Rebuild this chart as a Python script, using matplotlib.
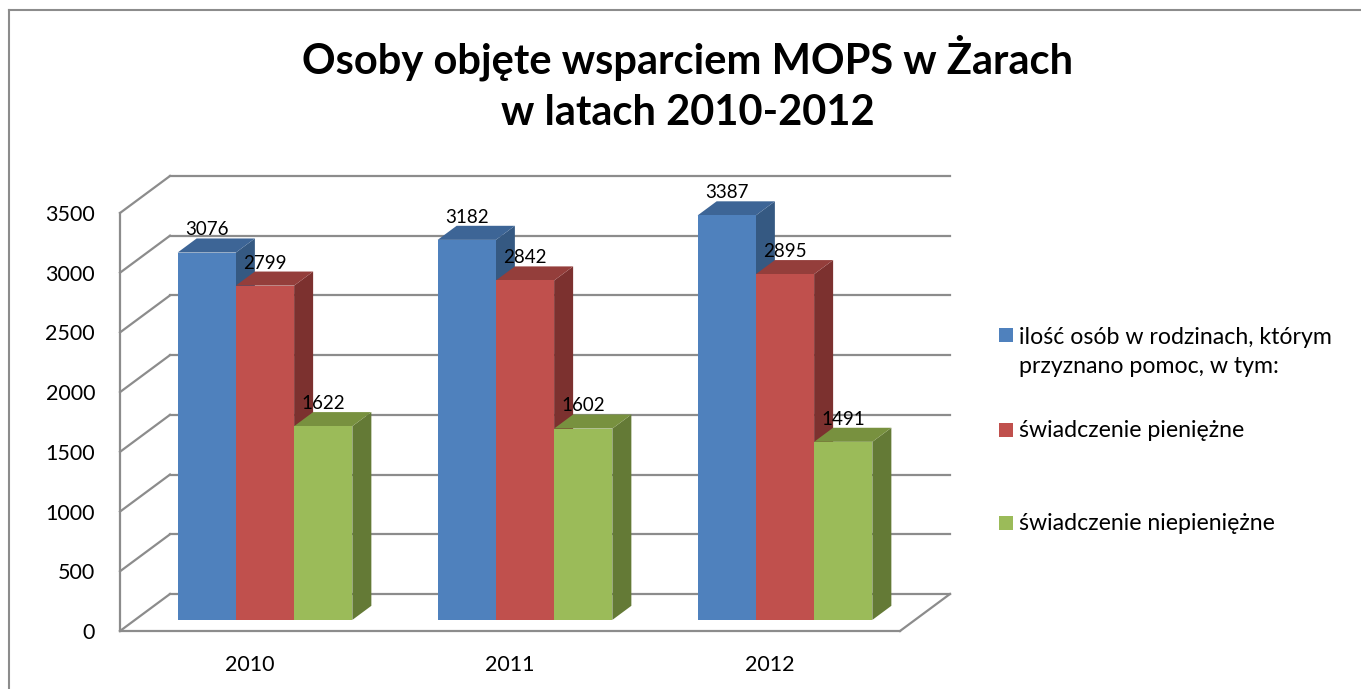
import matplotlib
matplotlib.use("Agg")
import matplotlib.pyplot as plt
from matplotlib.patches import Polygon, Rectangle
from matplotlib.lines import Line2D

# ---------------- data ----------------
years = ["2010", "2011", "2012"]
series_names = [
    "ilość osób w rodzinach, którym\nprzyznano pomoc, w tym:",
    "świadczenie pieniężne",
    "świadczenie niepieniężne",
]
osoby_ogolem = [3076, 3182, 3387]
swiadczenie_pieniezne = [2799, 2842, 2895]
swiadczenie_niepieniezne = [1622, 1602, 1491]
y_ticks = [0, 500, 1000, 1500, 2000, 2500, 3000, 3500]
title = "Osoby objęte wsparciem MOPS w Żarach\nw latach 2010-2012"

series = [osoby_ogolem, swiadczenie_pieniezne, swiadczenie_niepieniezne]

# ---------------- style ----------------
FONT = ["Lato", "DejaVu Sans"]
plt.rcParams["font.family"] = FONT
front_colors = ["#4F81BD", "#C0504D", "#9BBB59"]
top_colors = ["#3D6596", "#943E3B", "#78913F"]
side_colors = ["#355982", "#7C312F", "#647A36"]
grid_color = "#8C8C8C"

W, H = 1361, 689
fig = plt.figure(figsize=(W / 100, H / 100), dpi=100)
fig.patch.set_facecolor("white")

# front plane of the plot: x from -0.5..2.5, y 0..3500
ax = fig.add_axes([120 / W, 58 / H, 780 / W, 418 / H])
ax.set_xlim(-0.5, len(years) - 0.5)
ax.set_ylim(0, 3500)
ax.set_facecolor("none")

DX = 50 / 260.0      # depth offset in category units
DY = 310.0           # depth offset in value units
F0 = 0.30            # front of bars (fraction of depth)
FD = 0.38            # bar depth (fraction)
BW = 0.224           # bar width

# back wall gridlines and side-wall diagonals
x_lo, x_hi = -0.5, len(years) - 0.5
for v in y_ticks:
    ax.add_line(Line2D([x_lo + DX, x_hi + DX], [v + DY, v + DY], color=grid_color,
                       lw=1.6, clip_on=False, zorder=1))
    ax.add_line(Line2D([x_lo, x_lo + DX], [v, v + DY], color=grid_color,
                       lw=1.6, clip_on=False, zorder=1))
ax.add_line(Line2D([x_hi, x_hi + DX], [0, DY], color=grid_color, lw=1.6,
                   clip_on=False, zorder=1))

# bars
for j, vals in enumerate(series):
    xs = [i - 1.5 * BW + j * BW + F0 * DX for i in range(len(years))]
    y0 = F0 * DY
    ax.bar(xs, vals, width=BW, bottom=y0, align="edge", color=front_colors[j],
           linewidth=0, zorder=4 + 2 * j, clip_on=False)
    for x0, v in zip(xs, vals):
        top = [(x0, y0 + v), (x0 + BW, y0 + v),
               (x0 + BW + FD * DX, y0 + v + FD * DY), (x0 + FD * DX, y0 + v + FD * DY)]
        side = [(x0 + BW, y0), (x0 + BW + FD * DX, y0 + FD * DY),
                (x0 + BW + FD * DX, y0 + v + FD * DY), (x0 + BW, y0 + v)]
        ax.add_patch(Polygon(side, closed=True, facecolor=side_colors[j], lw=0,
                             zorder=3 + 2 * j, clip_on=False))
        ax.add_patch(Polygon(top, closed=True, facecolor=top_colors[j], lw=0,
                             zorder=3 + 2 * j, clip_on=False))
        ax.text(x0 + BW / 2, y0 + v + FD * DY, str(v), ha="center", va="bottom",
                fontsize=13.5, color="#000000", zorder=20, clip_on=False)

# axes / ticks
for s in ["top", "right"]:
    ax.spines[s].set_visible(False)
for s in ["left", "bottom"]:
    ax.spines[s].set_color(grid_color)
    ax.spines[s].set_linewidth(1.6)
ax.set_yticks(y_ticks)
ax.set_yticklabels([str(t) for t in y_ticks])
ax.set_xticks(range(len(years)))
ax.set_xticklabels(years)
ax.tick_params(axis="y", length=0, pad=18, labelsize=15.5)
ax.tick_params(axis="x", length=0, pad=17, labelsize=15.5)

# title
fig.text(688 / W, 1 - 83 / H, title, ha="center", va="center", fontsize=30,
         fontweight="bold", linespacing=1.42)

# legend (manual layout)
leg_y = [352, 430, 523]
sq = 14
for j, name in enumerate(series_names):
    ymark = 335 if j == 0 else leg_y[j]
    fig.patches.append(Rectangle(((1006 - sq / 2) / W, 1 - (ymark + sq / 2) / H),
                                 sq / W, sq / H, transform=fig.transFigure,
                                 facecolor=front_colors[j], edgecolor="none"))
    fig.text(1019 / W, 1 - leg_y[j] / H, name, ha="left", va="center",
             fontsize=16.7, linespacing=1.45)

# outer frame
fig.add_artist(Line2D([9 / W, 9 / W], [0, 1 - 10 / H], color="#8C8C8C", lw=1.5,
                      transform=fig.transFigure))
fig.add_artist(Line2D([9 / W, 1], [1 - 10 / H, 1 - 10 / H], color="#8C8C8C", lw=1.5,
                      transform=fig.transFigure))

fig.savefig("out.png", dpi=100)
